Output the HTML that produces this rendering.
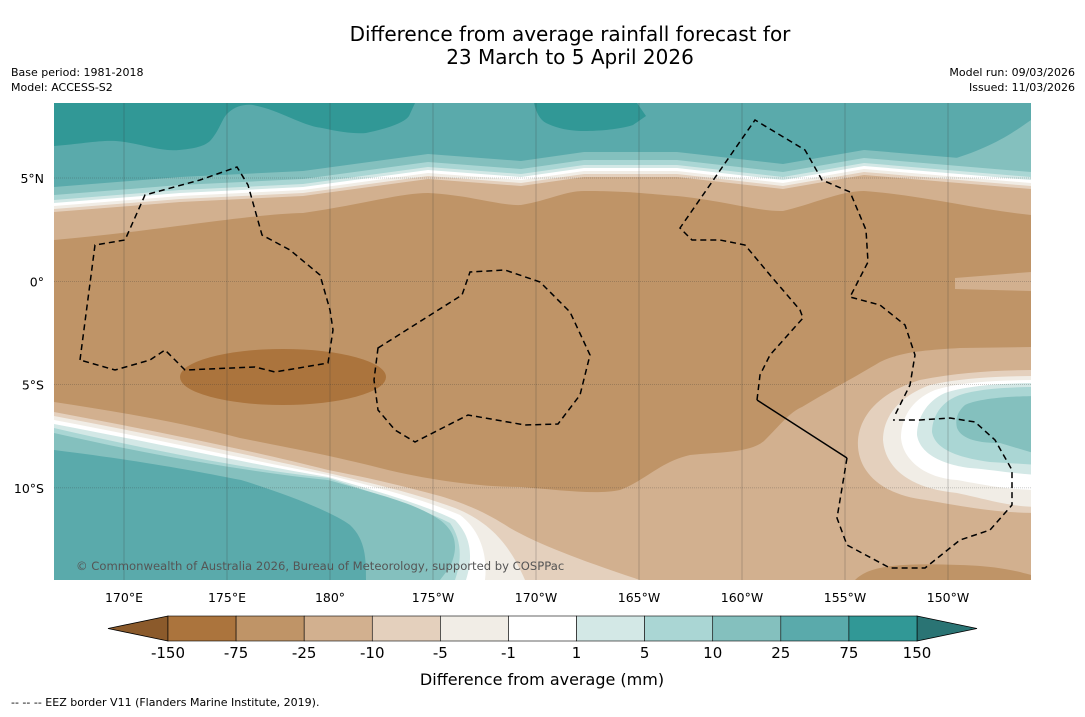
<!DOCTYPE html>
<html><head><meta charset="utf-8"><style>
body{margin:0;width:1085px;height:713px;background:#fff;font-family:"DejaVu Sans",sans-serif;overflow:hidden}
</style></head><body>
<svg width="1085" height="713" viewBox="0 0 1085 713" xmlns="http://www.w3.org/2000/svg" font-family="DejaVu Sans, sans-serif">
<text x="570" y="41" font-size="20" text-anchor="middle">Difference from average rainfall forecast for</text>
<text x="570" y="64" font-size="20" text-anchor="middle">23 March to 5 April 2026</text>
<text x="11" y="76" font-size="11">Base period: 1981-2018</text>
<text x="11" y="91" font-size="11">Model: ACCESS-S2</text>
<text x="1075" y="76" font-size="11" text-anchor="end">Model run: 09/03/2026</text>
<text x="1075" y="91" font-size="11" text-anchor="end">Issued: 11/03/2026</text>
<defs><clipPath id="mc"><rect x="54" y="103" width="977" height="477"/></clipPath></defs>
<g clip-path="url(#mc)">
<rect x="54" y="103" width="977" height="477" fill="#bf9467"/>
<g id="north"></g>
<path d="M54,580 L54,402 C120,412 179,422 240,438 C300,450 328,455 380,468 C428,480 480,487 521,487 C560,490 596,495 620,490 C646,480 660,462 690,455 C720,452 752,453 765,440 C780,425 790,412 802,407 C830,390 850,380 880,362 C900,352 926,350 960,348 L1031,347 L1031,580 Z" fill="#d2b08f"/>
<path d="M955,278 L1031,272 L1031,291 L955,289 Z" fill="#d2b08f"/>
<ellipse cx="283" cy="377" rx="103" ry="28" fill="#ab743d"/>
<path d="M855,580 C870,565 900,563 960,565 C1000,566 1020,572 1031,575 L1031,580 Z" fill="#bf9467"/>
<g id="south"></g>
<g id="east"></g>
<g id="grid"></g>
<g fill="none" stroke="#000" stroke-width="1.5" stroke-dasharray="6,4">
<path d="M80,360 L95,245 L125,240 L145,195 L200,180 L237,167 L248,185 L262,235 L290,250 L320,275 L330,310 L333,330 L328,363 L275,372 L255,367 L185,370 L165,350 L150,360 L115,370 Z"/>
<path d="M378,348 L462,295 L470,272 L505,270 L540,282 L570,312 L590,355 L580,395 L558,424 L525,425 L468,415 L415,442 L395,430 L378,410 L374,380 Z"/>
<path d="M757,400 L760,375 L770,355 L803,318 L800,310 L770,275 L745,245 L720,240 L692,240 L680,228 L755,120 L805,150 L822,180 L850,192 L866,230 L868,262 L850,297 L880,305 L905,325 L915,355 L910,385 L895,415"/>
<path d="M847,458 L840,500 L837,518 L847,545 L890,568 L925,568 L960,540 L990,530 L1012,505 L1012,470 L995,440 L975,422 L950,418 L920,420 L893,420"/>
</g>
<path d="M757,400 L847,458" stroke="#000" stroke-width="1.5" fill="none"/>
<text x="76" y="570" font-size="11.6" fill="#555">© Commonwealth of Australia 2026, Bureau of Meteorology, supported by COSPPac</text>
</g>
<g id="axes"></g>
<g id="cbar"></g>
<text x="542" y="685" font-size="16" text-anchor="middle">Difference from average (mm)</text>
<text x="11" y="706" font-size="11">--  --  -- EEZ border V11 (Flanders Marine Institute, 2019).</text>
</svg>
<script>
const NS="http://www.w3.org/2000/svg";
const levels=["-150","-75","-25","-10","-5","-1","1","5","10","25","75","150"];
const colors=["#ab743d","#bf9467","#d2b08f","#e4d0bd","#f1ede6","#ffffff","#d3e8e6","#aad6d4","#84c0be","#5aaaab","#319896"];
const lonLabels=["170°E","175°E","180°","175°W","170°W","165°W","160°W","155°W","150°W"];
const latLabels=["5°N","0°","5°S","10°S"];
function el(tag,attrs,parent){const e=document.createElementNS(NS,tag);for(const k in attrs)e.setAttribute(k,attrs[k]);parent.appendChild(e);return e;}
const xLon=i=>124+i*103, yLat=i=>178+i*103.3;
const north=document.getElementById('north');
const tanTop=[[54,215],[180,205],[303,199],[428,182],[521,189],[584,180],[677,180],[783,192],[864,178],[1031,192]];
const br=el('path',{d:"M54,240 C150,232 250,214 303,213 C360,205 400,193 428,193 C470,195 500,206 521,205 C550,200 565,191 584,191 C630,191 650,194 677,196 C720,200 760,212 783,211 C810,205 840,191 864,191 C920,195 980,210 1031,215 L1031,103 L54,103 Z",fill:"#d2b08f"},north);


const nOff=[[colors[3],-3],[colors[4],-6],[colors[5],-9],[colors[6],-12],[colors[7],-15],[colors[8],-20],[colors[9],-28]];
nOff.forEach(([c,o])=>{
 let d="M54,103 "+tanTop.map(p=>"L"+p[0]+","+(p[1]+o)).join(" ")+" L1031,103 Z";
 const p=el('path',{d:d,fill:c},north);
 
 
});
const dk1=el('path',{d:"M54,103 L54,146 C80,144 100,140 116,141 C140,143 160,152 179,150 C200,148 205,145 210,141 C220,130 222,118 228,113 C235,106 245,104 253,105 C280,110 300,125 322,128 C340,132 355,134 366,133 C390,128 405,122 409,116 L415,103 Z",fill:colors[10]},north);


const dk2=el('path',{d:"M534,103 C536,112 540,120 546,123 C560,130 575,131 584,131 C605,131 625,128 633,125 L646,116 L637,103 Z",fill:colors[10]},north);


const lt=el('path',{d:"M1031,120 C1010,135 990,148 950,160 L1031,166 Z",fill:colors[8]},north);


const south=document.getElementById('south');
const sw=[
 [colors[3],"M54,412 C150,430 250,450 328,470 C380,480 410,488 440,496 C470,505 490,515 510,528 C540,545 580,560 640,580 L54,580 Z"],
 [colors[4],"M54,416 C150,434 250,455 328,473 C380,485 420,495 455,508 C490,522 510,545 525,580 L54,580 Z"],
 [colors[5],"M54,420 C150,438 250,460 328,475 C380,488 425,500 460,515 C480,530 488,555 485,580 L54,580 Z"],
 [colors[6],"M54,424 C150,442 250,464 328,477 C380,492 425,505 455,520 C470,535 474,555 466,580 L54,580 Z"],
 [colors[7],"M54,428 C150,450 250,470 328,478 C380,495 420,508 450,523 C462,540 462,560 455,580 L54,580 Z"],
 [colors[8],"M54,433 C150,455 250,472 328,480 C380,495 415,503 440,520 C456,532 459,547 450,567 L440,580 L54,580 Z"],
 [colors[9],"M54,450 C150,462 200,472 241,480 C290,495 334,513 350,525 C366,540 366,560 366,580 L54,580 Z"]
];
sw.forEach(([c,d])=>{const p=el('path',{d:d,fill:c},south);
 
 });
const east=document.getElementById('east');
const ea=[
 [colors[3],"M1040,370 C1000,370 960,372 920,380 C880,392 860,415 858,440 C856,470 880,495 926,500 C970,508 1000,513 1040,513 Z"],
 [colors[4],"M1040,376 C1000,376 960,378 930,385 C895,398 883,420 883,440 C885,465 905,488 957,493 C990,500 1010,507 1040,507 Z"],
 [colors[5],"M1040,380 C1000,380 960,382 935,390 C910,400 901,420 901,438 C903,460 925,478 957,480 C990,486 1010,490 1040,490 Z"],
 [colors[6],"M1040,383 C1000,383 965,386 945,393 C925,402 917,420 917,435 C920,455 945,465 970,468 C995,470 1015,474 1040,475 Z"],
 [colors[7],"M1040,387 C1000,387 970,390 955,397 C938,405 932,420 932,432 C935,450 960,458 990,462 L1040,465 Z"],
 [colors[8],"M1040,396 C1000,396 975,400 965,405 C957,412 955,420 957,428 C962,440 980,443 1000,443 L1040,455 Z"]
];
ea.forEach(([c,d])=>{const p=el('path',{d:d,fill:c},east);
 
 });
const grid=document.getElementById('grid');
lonLabels.forEach((l,i)=>{const g=el('line',{x1:xLon(i),x2:xLon(i),y1:103,y2:580,stroke:"#333","stroke-width":0.5,opacity:0.5},grid);
 
 });
latLabels.forEach((l,i)=>{const g=el('line',{x1:54,x2:1031,y1:yLat(i),y2:yLat(i),stroke:"#333","stroke-width":0.5,opacity:0.5,"stroke-dasharray":"1,1"},grid);
 
 });
const axes=document.getElementById('axes');
lonLabels.forEach((l,i)=>{const t=el('text',{x:xLon(i),y:602,"font-size":12.5,"text-anchor":"middle"},axes);t.textContent=l;
 
 });
latLabels.forEach((l,i)=>{const t=el('text',{x:44,y:yLat(i)+5,"font-size":12.5,"text-anchor":"end"},axes);t.textContent=l;
 
 });
const cb=document.getElementById('cbar');
const x0=168,x1=917,y0=616,h=25,w=(x1-x0)/colors.length;
const lt2=el('path',{d:`M${x0},${y0} L108,${y0+h/2} L${x0},${y0+h} Z`,fill:"#8b5a2b",stroke:"#000","stroke-width":0.8},cb);


const rt=el('path',{d:`M${x1},${y0} L977,${y0+h/2} L${x1},${y0+h} Z`,fill:"#2a7474",stroke:"#000","stroke-width":0.8},cb);


colors.forEach((c,i)=>{const r=el('rect',{x:x0+i*w,y:y0,width:w,height:h,fill:c,stroke:"#000","stroke-width":0.6},cb);
 
 });
levels.forEach((l,i)=>{const t=el('text',{x:x0+i*w,y:658,"font-size":15,"text-anchor":"middle"},cb);t.textContent=l;
 
 });
</script>
</body></html>
